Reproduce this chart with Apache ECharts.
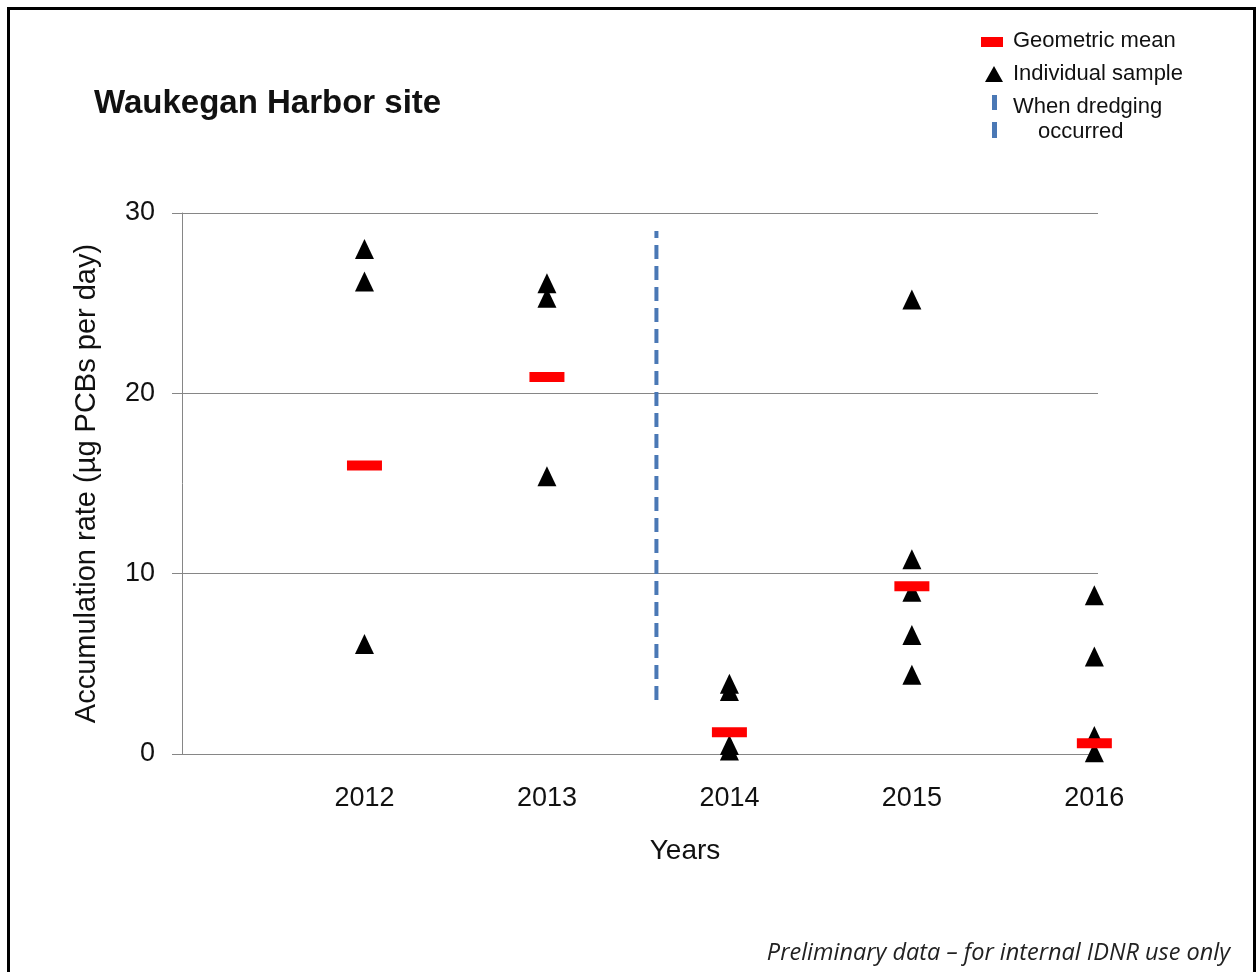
<!DOCTYPE html>
<html>
<head>
<meta charset="utf-8">
<script src="https://cdn.jsdelivr.net/npm/echarts@6/dist/echarts.min.js"></script>
<style>
html,body{margin:0;padding:0;background:#fff;}
#chart{width:1257px;height:972px;}
</style>
</head>
<body>
<div id="chart"></div>
<script>
// ---- data ----
const yearTicks = [2012, 2013, 2014, 2015, 2016];
const sampleYears = [2012, 2012, 2012, 2013, 2013, 2013, 2014, 2014, 2014, 2014, 2015, 2015, 2015, 2015, 2015, 2016, 2016, 2016, 2016];
const sampleValues = [28.0, 26.2, 6.1, 26.1, 25.3, 15.4, 3.9, 3.5, 0.5, 0.2, 25.2, 10.8, 9.0, 6.6, 4.4, 8.8, 5.4, 1.0, 0.1];
const meanYears = [2012, 2013, 2014, 2015, 2016];
const meanValues = [16.0, 20.9, 1.2, 9.3, 0.6];
const dredgeYear = [2013.6, 2013.6];
const dredgeRange = [3, 29];
const yTicks = [0, 10, 20, 30];

const FONT = '"Liberation Sans", Arial, sans-serif';
const chart = echarts.init(document.getElementById('chart'), null, {renderer: 'canvas'});

const option = {
  backgroundColor: '#fff',
  animation: false,
  title: {
    text: 'Waukegan Harbor site',
    left: 89, top: 82,
    textStyle: {fontFamily: FONT, fontSize: 33, fontWeight: 'bold', color: '#111'}
  },
  grid: {left: 182, right: 159, top: 213, bottom: 218, containLabel: false},
  xAxis: {
    type: 'value',
    min: 2011, max: 2016.02, interval: 1,
    name: 'Years', nameLocation: 'middle', nameGap: 83,
    nameTextStyle: {fontFamily: FONT, fontSize: 28, color: '#111', padding: [0, 0, 0, 90]},
    axisLine: {show: true, lineStyle: {color: '#868686', width: 1}},
    axisTick: {show: false},
    splitLine: {show: false},
    axisLabel: {
      margin: 31, fontFamily: FONT, fontSize: 27, color: '#111',
      showMinLabel: true, showMaxLabel: false,
      formatter: v => yearTicks.indexOf(Math.round(v)) >= 0 && Math.abs(v - Math.round(v)) < 1e-6 ? String(Math.round(v)) : ''
    }
  },
  yAxis: {
    type: 'value',
    min: yTicks[0], max: yTicks[yTicks.length - 1], interval: 10,
    name: 'Accumulation rate (µg PCBs per day)', nameLocation: 'middle', nameGap: 81, nameRotate: 90,
    nameTextStyle: {fontFamily: FONT, fontSize: 29, color: '#111'},
    axisLine: {show: true, lineStyle: {color: '#868686', width: 1}},
    axisTick: {show: true, length: 10, inside: false, lineStyle: {color: '#868686'}},
    splitLine: {show: true, lineStyle: {color: '#868686', width: 1}},
    axisLabel: {margin: 27, fontFamily: FONT, fontSize: 27, color: '#111'}
  },
  series: [
    {
      name: 'When dredging occurred',
      type: 'line',
      data: dredgeYear.map((x, i) => [x, dredgeRange[i]]),
      symbol: 'none',
      lineStyle: {color: '#4a78b5', width: 4, type: [14, 7]},
      z: 2
    },
    {
      name: 'Individual sample',
      type: 'scatter',
      data: sampleYears.map((x, i) => [x, sampleValues[i]]),
      symbol: 'triangle',
      symbolSize: [19, 20],
      itemStyle: {color: '#000', opacity: 1},
      z: 3
    },
    {
      name: 'Geometric mean',
      type: 'scatter',
      data: meanYears.map((x, i) => [x, meanValues[i]]),
      symbol: 'rect',
      symbolSize: [35, 10],
      itemStyle: {color: '#ff0000', opacity: 1},
      z: 4
    }
  ],
  graphic: [
    {type: 'rect', shape: {x: 8.5, y: 8.5, width: 1246, height: 1000}, style: {fill: 'none', stroke: '#000', lineWidth: 3}, silent: true},
    // legend
    {type: 'rect', shape: {x: 981, y: 37, width: 22, height: 10}, style: {fill: '#ff0000'}},
    {type: 'text', left: 1013, top: 30, style: {text: 'Geometric mean', font: '22px ' + FONT, fill: '#111'}},
    {type: 'polygon', shape: {points: [[994, 66], [1003, 82], [985, 82]]}, style: {fill: '#000'}},
    {type: 'text', left: 1013, top: 63, style: {text: 'Individual sample', font: '22px ' + FONT, fill: '#111'}},
    {type: 'rect', shape: {x: 992, y: 95, width: 5, height: 15}, style: {fill: '#4a78b5'}},
    {type: 'rect', shape: {x: 992, y: 122, width: 5, height: 16}, style: {fill: '#4a78b5'}},
    {type: 'text', left: 1013, top: 96, style: {text: 'When dredging', font: '22px ' + FONT, fill: '#111'}},
    {type: 'text', left: 1038, top: 121, style: {text: 'occurred', font: '22px ' + FONT, fill: '#111'}},
    // footer
    {type: 'text', right: 27, top: 942, style: {text: 'Preliminary data – for internal IDNR use only', font: 'italic 23.5px "Open Sans", ' + FONT, fill: '#222'}}
  ]
};
chart.setOption(option);
</script>
</body>
</html>
